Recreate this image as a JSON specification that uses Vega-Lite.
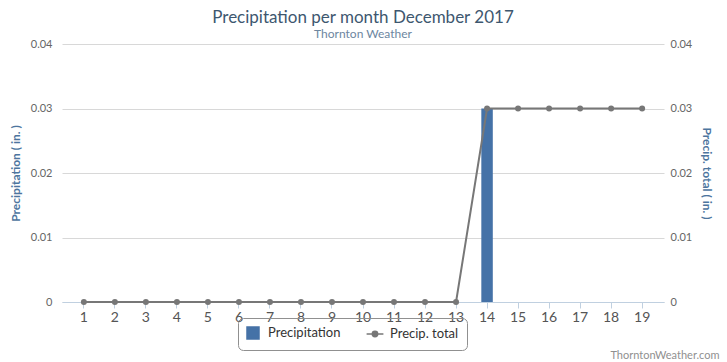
{
  "$schema": "https://vega.github.io/schema/vega-lite/v6.json",
  "autosize": "none",
  "width": 602,
  "height": 258,
  "padding": {"left": 62, "top": 44, "right": 63, "bottom": 60},
  "background": "white",
  "config": {
    "font": "Lato",
    "view": {"stroke": null}
  },
  "title": {
    "text": "Precipitation per month December 2017",
    "subtitle": "Thornton Weather",
    "anchor": "middle",
    "fontSize": 17,
    "fontWeight": "normal",
    "color": "#3e576f",
    "subtitleFontSize": 12,
    "subtitleColor": "#6d869f",
    "subtitlePadding": 2,
    "offset": -3
  },
  "data": {
    "values": [
      {"day": "1", "precip": 0, "total": 0},
      {"day": "2", "precip": 0, "total": 0},
      {"day": "3", "precip": 0, "total": 0},
      {"day": "4", "precip": 0, "total": 0},
      {"day": "5", "precip": 0, "total": 0},
      {"day": "6", "precip": 0, "total": 0},
      {"day": "7", "precip": 0, "total": 0},
      {"day": "8", "precip": 0, "total": 0},
      {"day": "9", "precip": 0, "total": 0},
      {"day": "10", "precip": 0, "total": 0},
      {"day": "11", "precip": 0, "total": 0},
      {"day": "12", "precip": 0, "total": 0},
      {"day": "13", "precip": 0, "total": 0},
      {"day": "14", "precip": 0.03, "total": 0.03},
      {"day": "15", "precip": 0, "total": 0.03},
      {"day": "16", "precip": 0, "total": 0.03},
      {"day": "17", "precip": 0, "total": 0.03},
      {"day": "18", "precip": 0, "total": 0.03},
      {"day": "19", "precip": 0, "total": 0.03}
    ]
  },
  "encoding": {
    "x": {
      "field": "day",
      "type": "ordinal",
      "sort": null,
      "scale": {"paddingInner": 0.63, "paddingOuter": 0.52},
      "axis": {
        "title": "ThorntonWeather.com",
        "titleAnchor": "end",
        "titleAlign": "right",
        "titleBaseline": "alphabetic",
        "titleX": 657,
        "titleY": 56,
        "titleFontSize": 11,
        "titleFontWeight": "normal",
        "titleColor": "#909090",
        "labelAngle": 0,
        "labelFontSize": 14,
        "labelColor": "#555555",
        "labelPadding": 2,
        "domainColor": "#c0d0e0",
        "tickColor": "#c0d0e0",
        "tickSize": 6,
        "grid": false
      }
    }
  },
  "layer": [
    {
      "mark": {"type": "bar", "color": "#4572a7"},
      "encoding": {
        "y": {
          "field": "precip",
          "type": "quantitative",
          "scale": {"domain": [0, 0.04]},
          "axis": {
            "title": "Precipitation ( in. )",
            "titleColor": "#4d759e",
            "titleFontSize": 12,
            "titleFontWeight": "bold",
            "titlePadding": 8,
            "orient": "left",
            "values": [0, 0.01, 0.02, 0.03, 0.04],
            "format": ".2~f",
            "grid": true,
            "gridColor": "#d8d8d8",
            "domain": false,
            "ticks": false,
            "labelPadding": 10,
            "labelFontSize": 11,
            "labelColor": "#666666"
          }
        },
        "color": {
          "datum": "Precipitation",
          "scale": {"domain": ["Precipitation", "Precip. total"], "range": ["#4572a7", "#777777"]},
          "legend": {
            "title": null,
            "orient": "none",
            "direction": "horizontal",
            "legendX": 176,
            "legendY": 274,
            "strokeColor": "#909090",
            "cornerRadius": 5,
            "padding": 8,
            "labelFontSize": 13,
            "labelColor": "#333333",
            "symbolSize": 144,
            "columnPadding": 22,
            "labelOffset": 8,
            "encode": {
              "symbols": {
                "update": {
                  "shape": {"signal": "datum.value == 'Precipitation' ? 'square' : 'M-1.4,0L1.4,0M-0.45,0A0.45,0.45,0,1,1,0.45,0A0.45,0.45,0,1,1,-0.45,0'"},
                  "stroke": {"signal": "datum.value == 'Precipitation' ? '#4572a7' : '#777777'"},
                  "strokeWidth": {"value": 1.5},
                  "fillOpacity": {"value": 1}
                }
              }
            }
          }
        }
      }
    },
    {
      "mark": {"type": "line", "strokeWidth": 2, "point": {"filled": true, "size": 36, "opacity": 1}},
      "encoding": {
        "y": {
          "field": "total",
          "type": "quantitative",
          "scale": {"domain": [0, 0.04]},
          "axis": {
            "title": "Precip. total ( in. )",
            "titleColor": "#4d759e",
            "titleFontSize": 12,
            "titleFontWeight": "bold",
            "titlePadding": 8,
            "orient": "right",
            "values": [0, 0.01, 0.02, 0.03, 0.04],
            "format": ".2~f",
            "grid": false,
            "domain": false,
            "ticks": false,
            "labelPadding": 6,
            "labelFontSize": 11,
            "labelColor": "#666666"
          }
        },
        "color": {"datum": "Precip. total"}
      }
    }
  ],
  "resolve": {"scale": {"y": "independent"}}
}
